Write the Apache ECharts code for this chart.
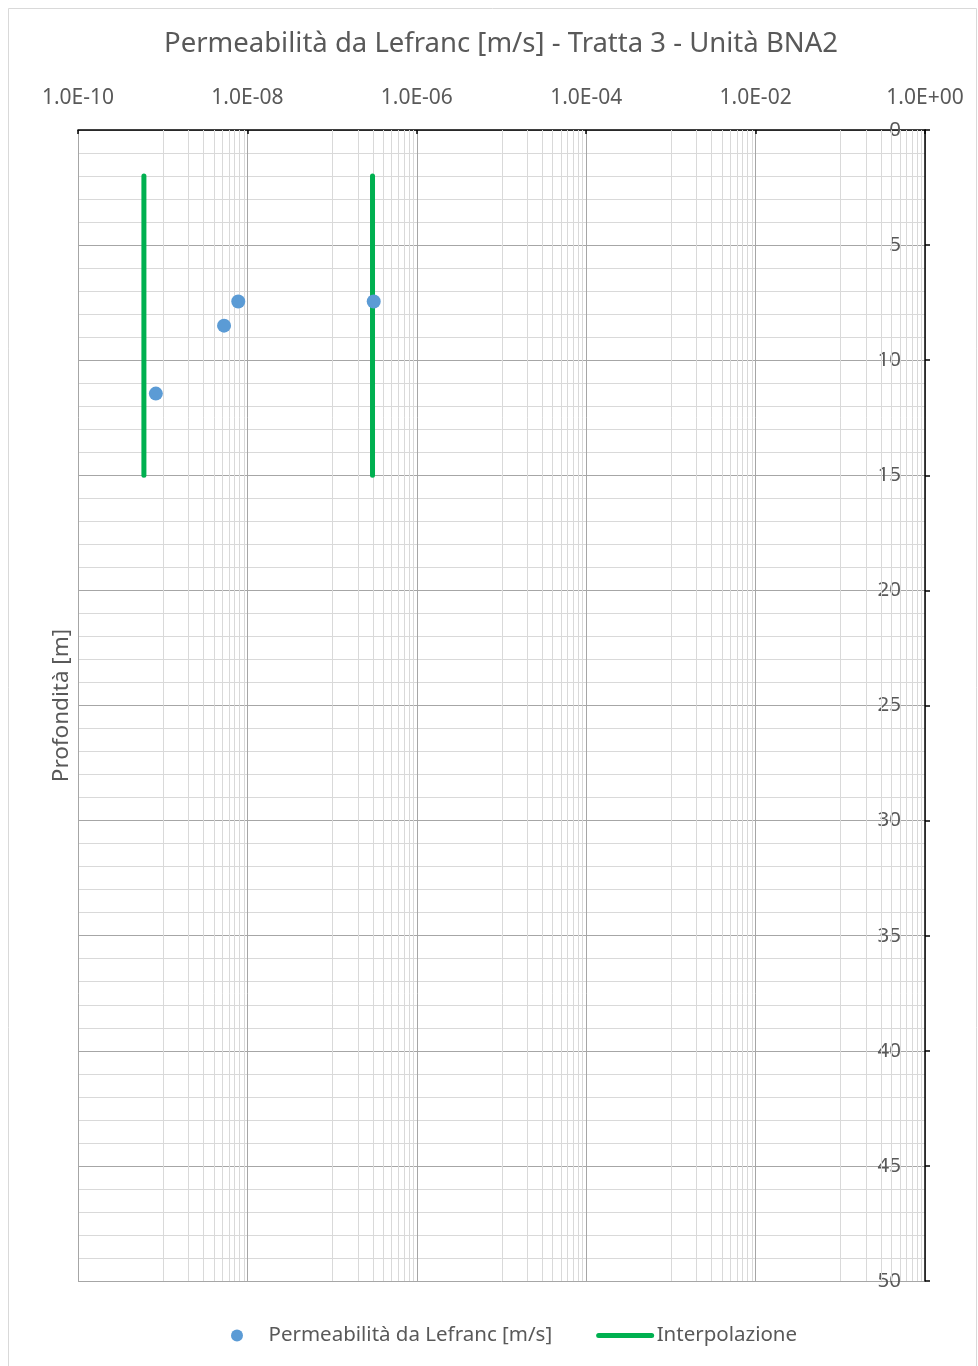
<!DOCTYPE html>
<html>
<head>
<meta charset="utf-8">
<script src="https://cdn.jsdelivr.net/npm/echarts@6/dist/echarts.min.js"></script>
<style>
  html, body { margin: 0; padding: 0; background: #ffffff; }
  #chart { width: 978px; height: 1366px; }
</style>
</head>
<body>
<div id="chart"></div>
<script>
// Lefranc permeability tests, section 3, unit BNA2
const permeability = [8.3e-10, 5.3e-9, 7.8e-9, 3.1e-7];   // k [m/s]
const testDepth = [11.45, 8.5, 7.45, 7.45];               // depth [m]

// Interpolated permeability bands (constant k over a depth range)
const interpK = [6e-10, 3e-7];
const interpDepth = [2, 15];

// Horizontal axis: exponents of the labelled decades and their labels
const decadeExponents = [-10, -8, -6, -4, -2, 0];
const decadeLabels = ['1.0E-10', '1.0E-08', '1.0E-06', '1.0E-04', '1.0E-02', '1.0E+00'];

// Minor vertical grid: 1..9 x 10^e inside each labelled two-decade block
const minorExponents = [-9, -7, -5, -3, -1];
const minorMultipliers = [1, 2, 3, 4, 5, 6, 7, 8, 9];

const depthMin = 0, depthMax = 50, depthStep = 5;

const TEXT = '#595959';
const FONT = "'Noto Sans', 'Open Sans', sans-serif";

const minorValues = [];
minorExponents.forEach(e => minorMultipliers.forEach(m => minorValues.push(m * Math.pow(10, e))));

const chart = echarts.init(document.getElementById('chart'), null, { renderer: 'canvas' });

chart.setOption({
  backgroundColor: '#ffffff',
  animation: false,
  textStyle: { fontFamily: FONT },
  title: {
    text: 'Permeabilità da Lefranc [m/s] - Tratta 3 - Unità BNA2',
    left: 496, top: 25, textAlign: 'center',
    textStyle: { color: TEXT, fontSize: 27.5, fontWeight: 'normal', fontFamily: FONT }
  },
  graphic: [{
    type: 'rect', z: -10, silent: true,
    shape: { x: 8.5, y: 8.5, width: 968, height: 1380 },
    style: { fill: 'none', stroke: '#d9d9d9', lineWidth: 1 }
  }],
  legend: {
    left: 226, top: 1320,
    itemWidth: 53, itemHeight: 12, itemGap: 44,
    textStyle: { color: TEXT, fontSize: 20.5, fontFamily: FONT },
    data: [
      { name: 'Permeabilità da Lefranc [m/s]', icon: 'circle' },
      {
        name: 'Interpolazione',
        itemStyle: { opacity: 0 },
        lineStyle: { color: '#00b050', width: 5, cap: 'round' }
      }
    ]
  },
  grid: { left: 78, right: 53, top: 130, bottom: 85, containLabel: false },
  xAxis: [
    {
      // data axis: permeability on a logarithmic scale
      type: 'log', logBase: 10, min: 1e-10, max: 1, show: false
    },
    {
      // decade labels, ticks and major grid, in exponent units
      type: 'value', position: 'top', min: -10, max: 0, interval: 2,
      axisLine: { show: true, onZero: false, lineStyle: { color: '#000000', width: 1.5 } },
      axisTick: { show: true, inside: true, length: 4, lineStyle: { color: '#000000', width: 1.5 } },
      axisLabel: {
        color: TEXT, fontSize: 21, margin: 21,
        formatter: v => decadeLabels[decadeExponents.indexOf(Math.round(v))] || ''
      },
      splitLine: { show: true, lineStyle: { color: '#a6a6a6', width: 1 } }
    }
  ],
  yAxis: [
    {
      type: 'value', position: 'right', inverse: true,
      min: depthMin, max: depthMax, interval: depthStep,
      axisLine: { show: true, lineStyle: { color: '#000000', width: 1.5 } },
      axisTick: { show: true, inside: false, length: 5, lineStyle: { color: '#000000', width: 1.5 } },
      axisLabel: { inside: true, margin: 24, color: TEXT, fontSize: 20.5 },
      splitLine: { show: true, lineStyle: { color: '#a6a6a6', width: 1 } },
      minorTick: { show: false, splitNumber: 5 },
      minorSplitLine: { show: true, lineStyle: { color: '#d9d9d9', width: 1 } }
    },
    {
      type: 'value', position: 'left', inverse: true,
      min: depthMin, max: depthMax,
      name: 'Profondità [m]', nameLocation: 'middle', nameGap: 5, nameRotate: 90,
      nameTextStyle: { color: TEXT, fontSize: 22.5, fontFamily: FONT },
      axisLine: { show: false }, axisTick: { show: false },
      axisLabel: { show: false }, splitLine: { show: false }
    }
  ],
  series: [
    {
      // minor vertical grid lines placed on the log scale
      type: 'custom', xAxisIndex: 0, yAxisIndex: 0, z: 1, silent: true,
      data: minorValues.map(v => [v, depthMin]),
      renderItem: (params, api) => {
        const p0 = api.coord([api.value(0), depthMin]);
        const p1 = api.coord([api.value(0), depthMax]);
        const x = Math.round(p0[0]) + 0.5;
        return {
          type: 'line',
          shape: { x1: x, y1: p0[1], x2: x, y2: p1[1] },
          style: { stroke: '#d9d9d9', lineWidth: 1 }
        };
      }
    },
    {
      name: 'Interpolazione', type: 'line', xAxisIndex: 0, yAxisIndex: 0,
      symbol: 'none', z: 3,
      lineStyle: { color: '#00b050', width: 5, cap: 'round' },
      itemStyle: { color: '#00b050' },
      data: interpDepth.map(d => [interpK[0], d])
    },
    {
      name: 'Interpolazione', type: 'line', xAxisIndex: 0, yAxisIndex: 0,
      symbol: 'none', z: 3,
      lineStyle: { color: '#00b050', width: 5, cap: 'round' },
      itemStyle: { color: '#00b050' },
      data: interpDepth.map(d => [interpK[1], d])
    },
    {
      name: 'Permeabilità da Lefranc [m/s]', type: 'scatter', xAxisIndex: 0, yAxisIndex: 0,
      symbol: 'circle', symbolSize: 14, z: 4,
      itemStyle: { color: '#5b9bd5', opacity: 1 },
      data: permeability.map((k, i) => [k, testDepth[i]])
    }
  ]
});
</script>
</body>
</html>
